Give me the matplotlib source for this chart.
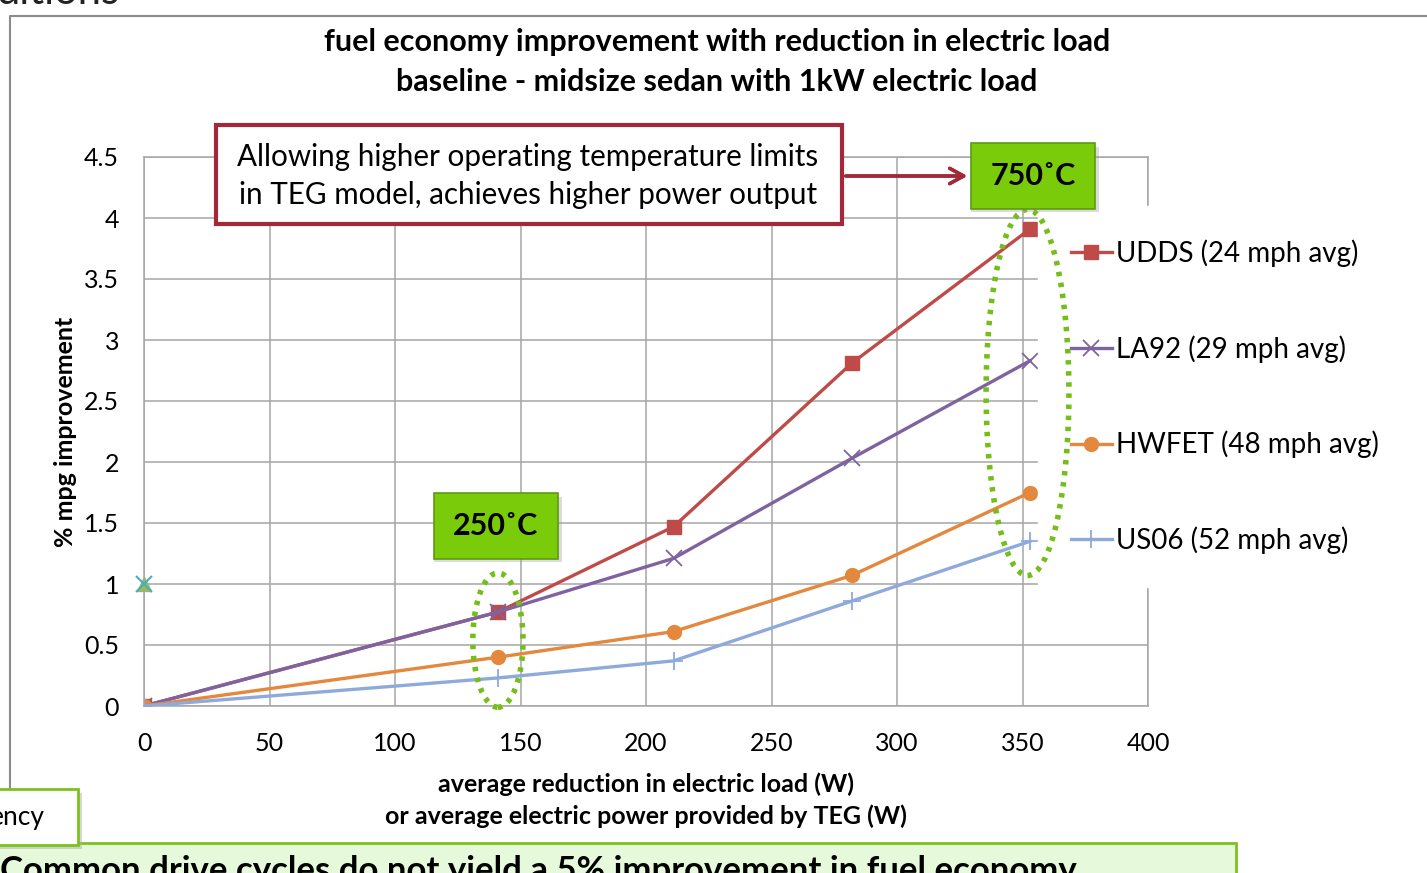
import matplotlib.pyplot as plt
from matplotlib.patches import Rectangle, Ellipse
from matplotlib.lines import Line2D

plt.rcParams['font.family'] = ['Lato', 'DejaVu Sans']

# average electric power provided by TEG (W)
power = [0, 141, 211, 282, 353]

udds = [0, 0.77, 1.47, 2.81, 3.91]
la92 = [0, 0.77, 1.21, 2.03, 2.83]
hwfet = [0, 0.40, 0.61, 1.07, 1.75]
us06 = [0, 0.23, 0.37, 0.86, 1.35]

# two stray points sitting on the y axis
stray_x = [0]
stray_y = [1.0]

labels = ['UDDS (24 mph avg)', 'LA92 (29 mph avg)',
          'HWFET (48 mph avg)', 'US06 (52 mph avg)']
xticks = [0, 50, 100, 150, 200, 250, 300, 350, 400]
yticks = [0, 0.5, 1, 1.5, 2, 2.5, 3, 3.5, 4, 4.5]

W, H = 1427, 873


def fx(px):
    return px / W


def fy(py):
    return 1 - py / H


fig = plt.figure(figsize=(14.27, 8.73), dpi=100)
fig.patch.set_facecolor('white')

# chart area border (slide crop)
fig.add_artist(Line2D([fx(10), fx(10), fx(1440)], [fy(845), fy(16), fy(16)],
                      color='#8c8c8c', lw=1.5))

# leftover slide text at the top
fig.text(fx(-4), fy(4), 'ditions', fontsize=30, ha='left', va='baseline', color='#222222')

ax = fig.add_axes([fx(144), fy(706), fx(1148) - fx(144), fy(157) - fy(706)])

ax.plot(power, udds, color='#BE4B48', lw=2.4, marker='s', ms=10, label=labels[0], zorder=4)
ax.plot(power, la92, color='#7F62A0', lw=2.4, marker='x', ms=11, mew=1.3, label=labels[1], zorder=4)
ax.plot(power, hwfet, color='#E3883D', lw=2.4, marker='o', ms=10, label=labels[2], zorder=4)
ax.plot(power, us06, color='#8EAADB', lw=2.4, marker='+', ms=13, mew=1.3, label=labels[3], zorder=4)
ax.plot(stray_x, stray_y, ls='none', marker='^', ms=10, color='#9BBB59', zorder=4, clip_on=False)
ax.plot(stray_x, stray_y, ls='none', marker='x', ms=11, mew=1.5, color='#4BACC6', zorder=5, clip_on=False)

ax.set_xlim(0, 400)
ax.set_ylim(0, 4.5)
ax.set_xticks(xticks)
ax.set_yticks(yticks)
ax.set_yticklabels(['0', '0.5', '1', '1.5', '2', '2.5', '3', '3.5', '4', '4.5'])
ax.tick_params(length=0, labelsize=18, colors='black')
ax.tick_params(axis='x', pad=19)
ax.tick_params(axis='y', pad=18)
ax.grid(True, color='#a6a6a6', lw=1.1)
ax.set_axisbelow(True)
for s in ax.spines.values():
    s.set_color('#a6a6a6')
    s.set_linewidth(1.1)

ax.set_ylabel('% mpg improvement', fontsize=18, fontweight='bold', labelpad=5)
ax.set_xlabel('average reduction in electric load (W)\nor average electric power provided by TEG (W)',
              fontsize=18, fontweight='bold', labelpad=12, linespacing=1.45)

fig.text(fx(717), fy(62), 'fuel economy improvement with reduction in electric load\n'
         'baseline - midsize sedan with 1kW electric load',
         ha='center', va='center', fontsize=22, fontweight='bold', linespacing=1.55)

leg = ax.legend(loc='upper left', bbox_to_anchor=(fx(1038), fy(206)),
                bbox_transform=fig.transFigure, fontsize=20, frameon=True,
                handlelength=1.45, handletextpad=0.15, labelspacing=2.45,
                borderaxespad=0, borderpad=1.2)
leg.get_frame().set_facecolor('white')
leg.get_frame().set_edgecolor('white')
leg.get_frame().set_alpha(1)

# dotted ellipses around the two operating points
ax.add_patch(Ellipse((141, 0.54), 20, 1.1, fill=False, ec='#74BE1A', lw=4,
                     ls=(0, (0.8, 1.2)), clip_on=False, zorder=6))
ax.add_patch(Ellipse((352, 2.57), 33, 3.0, fill=False, ec='#74BE1A', lw=4,
                     ls=(0, (0.8, 1.2)), clip_on=False, zorder=6))

# green temperature labels
for cx, cy, txt in [(1033, 176, '750˚C'), (496, 526, '250˚C')]:
    fig.patches.append(Rectangle((fx(cx - 62), fy(cy + 36)), fx(128), 65 / H,
                                 transform=fig.transFigure, fc='#9a9a9a', ec='none',
                                 alpha=0.35, zorder=7))
    fig.text(fx(cx), fy(cy), txt, ha='center', va='center', fontsize=22, fontweight='bold',
             zorder=9, bbox=dict(boxstyle='square,pad=0.62', fc='#7ACC0A', ec='#5C9A10', lw=1.2))

# red callout box
fig.patches.append(Rectangle((fx(216), fy(224)), fx(626), 99 / H, transform=fig.transFigure,
                             fc='white', ec='#A3293A', lw=3, zorder=7))
fig.text(fx(528), fy(176), 'Allowing higher operating temperature limits\n'
         'in TEG model, achieves higher power output',
         ha='center', va='center', fontsize=21.3, linespacing=1.42, zorder=8)
fig.add_artist(plt.annotate('', xy=(fx(970), fy(176)), xytext=(fx(843), fy(176)),
                            xycoords='figure fraction', textcoords='figure fraction',
                            arrowprops=dict(arrowstyle='->,head_length=1.0,head_width=0.55',
                                            color='#A3293A', lw=2.5)))

# bits of the surrounding slide
fig.patches.append(Rectangle((fx(-20), fy(873 + 20)), fx(1256), (30 + 20) / H,
                             transform=fig.transFigure, fc='#E6FADB', ec='#7CC21E', lw=2, zorder=7))
fig.text(fx(0), fy(855), 'Common drive cycles do not yield a 5% improvement in fuel economy',
         ha='left', va='top', fontsize=25, fontweight='bold', zorder=8)
fig.patches.append(Rectangle((fx(-20), fy(849)), fx(102), 56 / H, transform=fig.transFigure,
                             fc='#b0b0b0', ec='none', alpha=0.5, zorder=7))
fig.patches.append(Rectangle((fx(-20), fy(845)), fx(98), 56 / H, transform=fig.transFigure,
                             fc='white', ec='#7CC21E', lw=2, zorder=7))
fig.text(fx(45), fy(818), 'ency', ha='right', va='center', fontsize=19, zorder=8)

fig.savefig('out.png', dpi=100)
